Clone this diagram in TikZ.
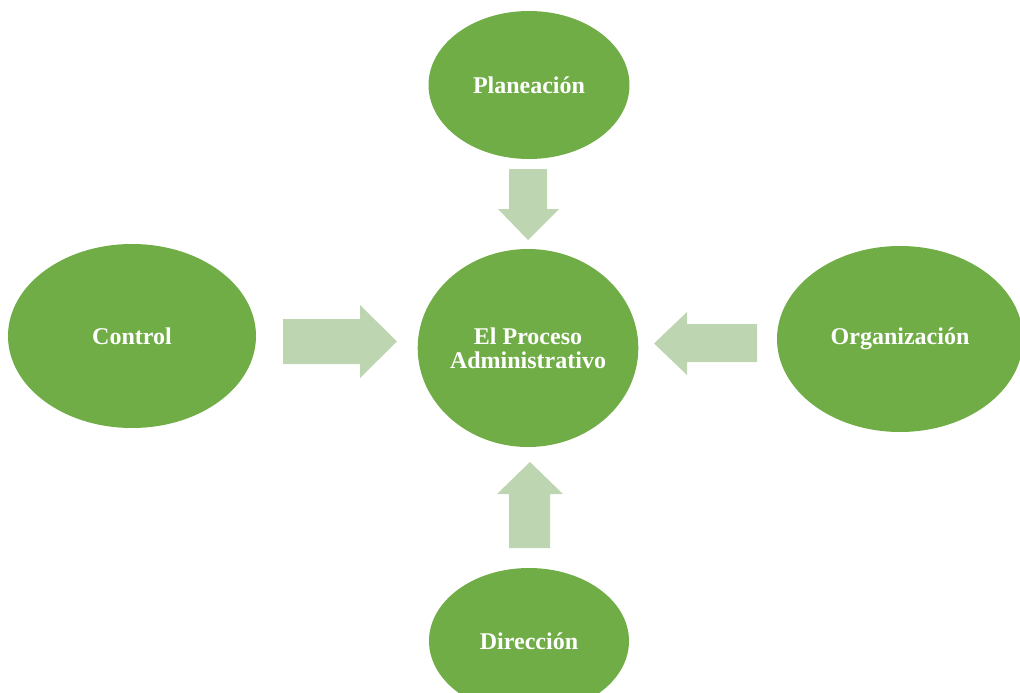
\documentclass[tikz,border=0pt]{standalone}
\usepackage{fontspec}
\setmainfont{Liberation Serif}
\usepackage{tikz}
\usetikzlibrary{shapes.geometric}
\definecolor{etapaverde}{HTML}{70AD47}
\definecolor{flechaverde}{HTML}{BDD6B1}
\tikzset{
  etapa/.style={ellipse, fill=etapaverde, text=white, inner sep=0pt,
    font=\bfseries\fontsize{24}{24}\selectfont, align=center},
  flecha/.style={fill=flechaverde, draw=none}
}

\begin{document}
\begin{tikzpicture}[x=1pt,y=-1pt]
    %%Background
    \useasboundingbox (0,0) rectangle (1020,693);
    \clip (0,0) rectangle (1020,693);

    %% Etapas
    \node[etapa, minimum width=217pt, minimum height=198pt] (proceso) at (528,348) {El Proceso\\Administrativo};
    \node[etapa, minimum width=201pt, minimum height=148pt] (planeacion) at (529,85) {Planeaci\'on};
    \node[etapa, minimum width=248pt, minimum height=184pt] (control) at (132,336) {Control};
    \node[etapa, minimum width=246pt, minimum height=186pt] (organizacion) at (900,339) {Organizaci\'on};
    \node[etapa, minimum width=200pt, minimum height=146pt] (direccion) at (529,641) {Direcci\'on};

    %% Flechas
    \fill[flecha] (509,169) -- (547,169) -- (547,209) -- (559,209) -- (528,240)
      -- (498,209) -- (509,209) -- cycle;
    \fill[flecha] (283,319) -- (360,319) -- (360,305) -- (397,341.5) -- (360,378)
      -- (360,364) -- (283,364) -- cycle;
    \fill[flecha] (757,324) -- (687,324) -- (687,312) -- (654,343.5) -- (687,375)
      -- (687,362) -- (757,362) -- cycle;
    \fill[flecha] (509,548) -- (509,494) -- (497,494) -- (530,462) -- (563,494)
      -- (550,494) -- (550,548) -- cycle;

\end{tikzpicture}
\end{document}
